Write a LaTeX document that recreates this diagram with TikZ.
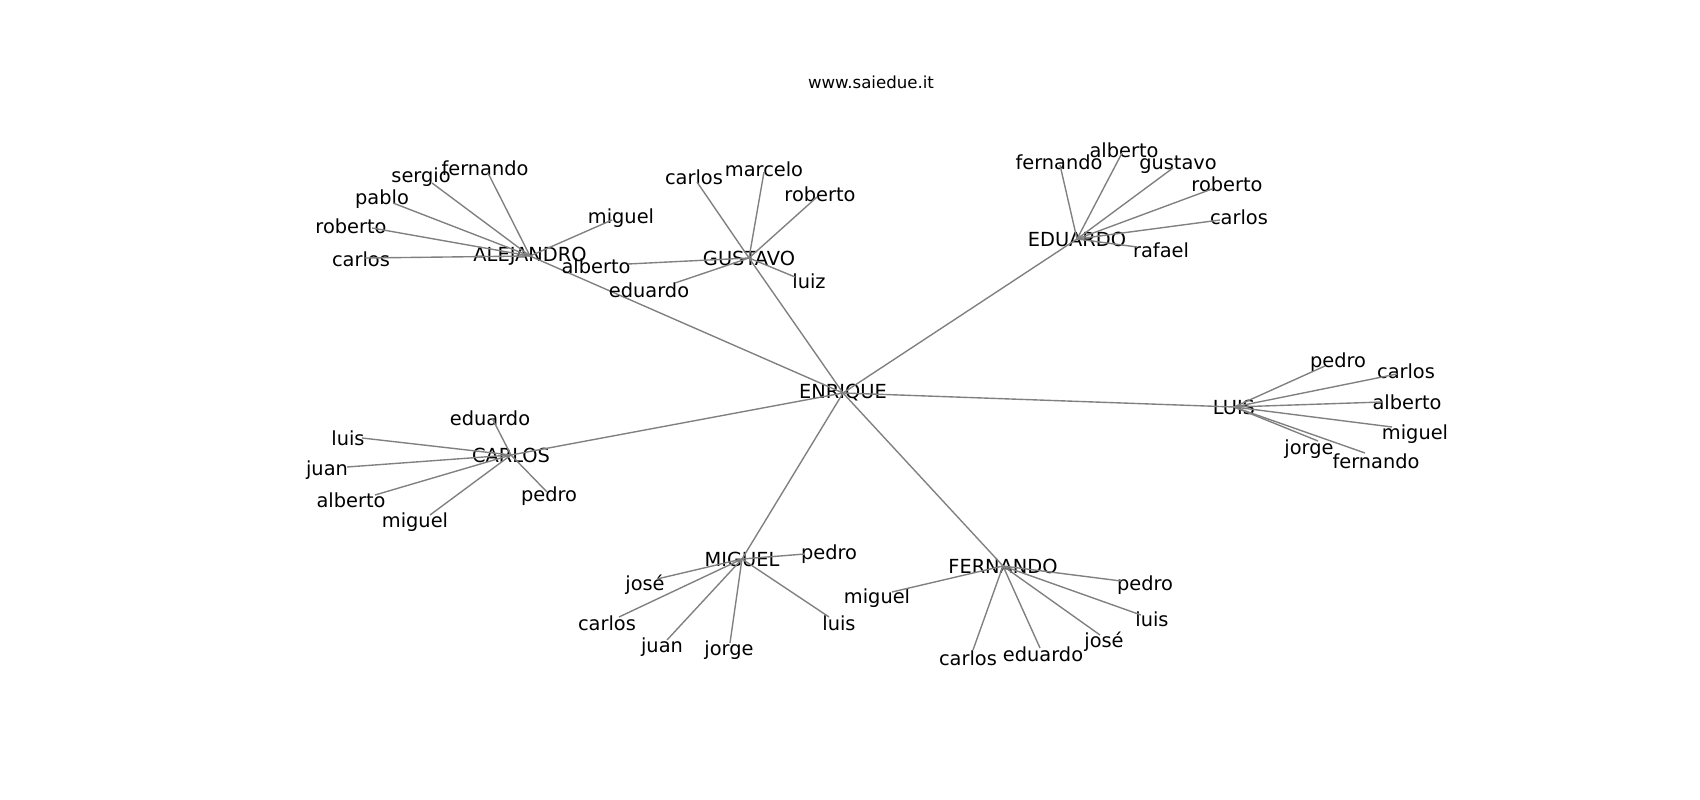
\documentclass[tikz,border=0pt]{standalone}
\usepackage{fontspec}
\setmainfont{DejaVu Sans}
\tikzset{
  edge/.style={draw=black!50, line width=1pt},
  hub/.style={inner sep=0pt, font=\fontsize{14}{16}\selectfont},
  leaf/.style={inner sep=0pt, yshift=-1.2pt, font=\fontsize{14}{16}\selectfont}
}
\begin{document}
\begin{tikzpicture}[x=0.01in, y=-0.01in]
	\useasboundingbox (0,0) rectangle (1700,800);
	\node[inner sep=0pt, font=\fontsize{12}{14}\selectfont] (title) at (871,82) {www.saiedue.it};

	% Nodi principali
	\node[hub] (ENRIQUE) at (843,393) {ENRIQUE};
	\node[hub] (ALEJANDRO) at (530,256) {ALEJANDRO};
	\node[hub] (GUSTAVO) at (749,258) {GUSTAVO};
	\node[hub] (EDUARDO) at (1077,239) {EDUARDO};
	\node[hub] (LUIS) at (1234,407) {LUIS};
	\node[hub] (CARLOS) at (511,455) {CARLOS};
	\node[hub] (MIGUEL) at (742,559) {MIGUEL};
	\node[hub] (FERNANDO) at (1003,566) {FERNANDO};

	% Archi verso il centro
	\foreach \h in {ALEJANDRO,GUSTAVO,EDUARDO,LUIS,CARLOS,MIGUEL,FERNANDO}
		\draw[edge] (ENRIQUE.center) -- (\h.center);

	% Foglie: nome / fine arco / etichetta / testo
	\foreach \n/\ex/\ey/\lx/\ly/\t in {carlos/365/258/361/258/carlos, roberto/372/228/351/225/roberto,
		pablo/393/203/382/197/pablo, sergio/432/183/421/175/sergio, fernando/488/173/485/167/fernando,
		miguel/612/220/621/216/miguel}{
		\coordinate (ale-\n) at (\ex,\ey);
		\node[leaf] (ale-\n-label) at (\lx,\ly) {\t};
		\draw[edge] (ALEJANDRO.center) -- (ale-\n);
	}
	\foreach \n/\ex/\ey/\lx/\ly/\t in {carlos/697/182/694/176/carlos, marcelo/764/172/764/168/marcelo,
		roberto/817/197/820/193/roberto, luiz/795/277/809/280/luiz, alberto/628/264/596/265/alberto,
		eduardo/675/283/649/289/eduardo}{
		\coordinate (gus-\n) at (\ex,\ey);
		\node[leaf] (gus-\n-label) at (\lx,\ly) {\t};
		\draw[edge] (GUSTAVO.center) -- (gus-\n);
	}
	\foreach \n/\ex/\ey/\lx/\ly/\t in {fernando/1060/165/1059/161/fernando, alberto/1122/153/1124/149/alberto,
		gustavo/1173/168/1178/163/gustavo, roberto/1212/189/1227/183/roberto, carlos/1220/220/1239/216/carlos,
		rafael/1137/247/1161/249/rafael}{
		\coordinate (edu-\n) at (\ex,\ey);
		\node[leaf] (edu-\n-label) at (\lx,\ly) {\t};
		\draw[edge] (EDUARDO.center) -- (edu-\n);
	}
	\foreach \n/\ex/\ey/\lx/\ly/\t in {pedro/1325/366/1338/360/pedro, carlos/1397/374/1406/370/carlos,
		alberto/1382/402/1407/401/alberto, miguel/1392/427/1415/432/miguel, jorge/1318/441/1309/447/jorge,
		fernando/1365/453/1376/460/fernando}{
		\coordinate (lui-\n) at (\ex,\ey);
		\node[leaf] (lui-\n-label) at (\lx,\ly) {\t};
		\draw[edge] (LUIS.center) -- (lui-\n);
	}
	\foreach \n/\ex/\ey/\lx/\ly/\t in {eduardo/492/418/490/417/eduardo, luis/362/438/348/437/luis,
		juan/347/467/327/468/juan, alberto/375/495/351/499/alberto, miguel/430/515/415/520/miguel,
		pedro/547/492/549/494/pedro}{
		\coordinate (car-\n) at (\ex,\ey);
		\node[leaf] (car-\n-label) at (\lx,\ly) {\t};
		\draw[edge] (CARLOS.center) -- (car-\n);
	}
	\foreach \n/\ex/\ey/\lx/\ly/\t in {pedro/805/554/829/552/pedro, jose/657/579/645/583/josé,
		carlos/619/617/607/622/carlos, juan/667/640/662/645/juan, jorge/730/643/729/648/jorge,
		luis/829/617/839/622/luis}{
		\coordinate (mig-\n) at (\ex,\ey);
		\node[leaf] (mig-\n-label) at (\lx,\ly) {\t};
		\draw[edge] (MIGUEL.center) -- (mig-\n);
	}
	\foreach \n/\ex/\ey/\lx/\ly/\t in {miguel/892/592/877/596/miguel, pedro/1121/581/1145/583/pedro,
		luis/1141/615/1152/618/luis, jose/1100/635/1104/640/josé, eduardo/1040/648/1043/653/eduardo,
		carlos/973/650/968/657/carlos}{
		\coordinate (fer-\n) at (\ex,\ey);
		\node[leaf] (fer-\n-label) at (\lx,\ly) {\t};
		\draw[edge] (FERNANDO.center) -- (fer-\n);
	}
\end{tikzpicture}
\end{document}
